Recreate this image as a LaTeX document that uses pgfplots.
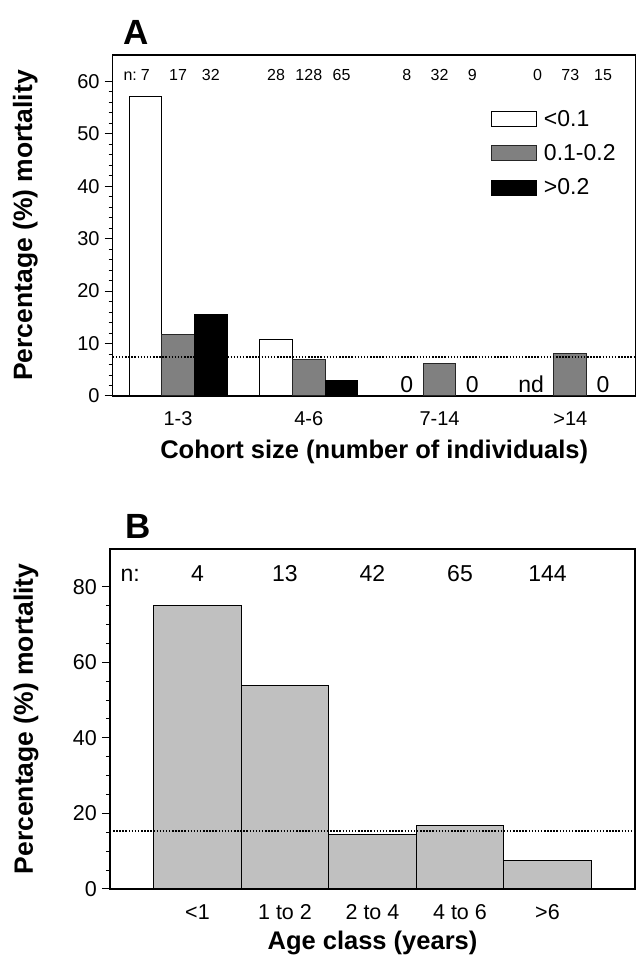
\documentclass[border=0pt]{standalone}
\usepackage{fontspec}
\setmainfont{Liberation Sans}
\usepackage{pgfplots}
\pgfplotsset{compat=1.18}
\definecolor{midgrey}{RGB}{128,128,128}
\definecolor{lightgrey}{RGB}{192,192,192}
\newcommand{\fs}[1]{\fontsize{#1}{#1}\selectfont}
\pgfplotsset{
  panel/.style={
    scale only axis, anchor=south west,
    ybar, bar shift=0,
    ytick pos=left, tick align=outside,
    major tick length=8pt, minor tick length=4pt,
    axis line style={line width=1.1pt},
    every tick/.style={line width=1pt, black},
    xtick style={draw=none},
    /pgf/number format/assume math mode=true,
    yticklabel style={anchor=east, inner sep=0pt, xshift=-5pt},
    xticklabel style={anchor=base, inner sep=0pt, yshift=-22pt},
    every axis y label/.style={rotate=90, anchor=base, font=\fs{26.5}\bfseries},
    every axis x label/.style={anchor=base, font=\fs{25.5}\bfseries},
    every axis title/.style={anchor=base west, font=\fs{35}\bfseries},
    clip=false,
  }
}
\newcommand{\nA}[2]{\node[font=\fs{16}, anchor=base] at (axis cs:#1,60.2) {#2};}
\newcommand{\nB}[2]{\node[font=\fs{23}, anchor=base] at (axis cs:#1,81.5) {#2};}
\begin{document}
\begin{tikzpicture}
\useasboundingbox (0,0) rectangle (637pt,956pt);
% ---------------- Panel A ----------------
\begin{axis}[panel,
  at={(112.7pt,560pt)}, width=523pt, height=341pt,
  xmin=-0.5, xmax=3.5, ymin=0, ymax=65,
  bar width=0.25,
  xtick={0,1,2,3}, xticklabels={1-3,4-6,7-14,>14},
  ytick={0,10,20,30,40,50,60}, minor y tick num=4,
  ticklabel style={font=\fs{20}},
  xlabel={Cohort size (number of individuals)},
  ylabel={Percentage (\%) mortality},
  x label style={at={(axis description cs:0.5,-0.182)}},
  y label style={at={(axis description cs:-0.154,0.5)}},
  title={A}, title style={at={(axis description cs:0.014,1.032)}},
  legend image code/.code={\draw[#1] (0pt,-8.5pt) rectangle (45pt,6.5pt);},
  legend style={at={(axis description cs:0.7233,0.8394)}, anchor=north west,
    draw=none, fill=none, inner sep=0pt, outer sep=0pt,
    row sep=17pt, column sep=7pt,
    font=\fs{23},
    nodes={inner sep=0pt, text height=16.5pt, text depth=0pt}},
  legend cell align=left,
]
\addplot[fill=white, draw=black, line width=1pt, bar shift=-0.25]
  coordinates {(0,57.1) (1,10.7)};
\addlegendentry{<0.1}
\addplot[fill=midgrey, draw=black!85, line width=1pt, bar shift=0]
  coordinates {(0,11.8) (1,7.0) (2,6.2) (3,8.1)};
\addlegendentry{0.1-0.2}
\addplot[fill=black, draw=black, line width=1pt, bar shift=0.25]
  coordinates {(0,15.6) (1,3.0)};
\addlegendentry{>0.2}
\addplot[sharp plot, forget plot, black, line width=1.4pt, dash pattern=on 1.5pt off 1.6pt]
  coordinates {(-0.5,7.4) (3.5,7.4)};
% n labels
\node[font=\fs{16}, anchor=base west] at (axis cs:-0.444,60.2) {n:};
\nA{-0.25}{7}\nA{0}{17}\nA{0.25}{32}
\nA{0.75}{28}\nA{1}{128}\nA{1.25}{65}
\nA{1.75}{8}\nA{2}{32}\nA{2.25}{9}
\nA{2.75}{0}\nA{3}{73}\nA{3.25}{15}
% zero / nd labels
\node[font=\fs{23}, anchor=base] at (axis cs:1.75,0.6) {0};
\node[font=\fs{23}, anchor=base] at (axis cs:2.25,0.6) {0};
\node[font=\fs{23}, anchor=base] at (axis cs:2.7,0.6) {nd};
\node[font=\fs{23}, anchor=base] at (axis cs:3.25,0.6) {0};
\end{axis}
% ---------------- Panel B ----------------
\begin{axis}[panel,
  at={(110pt,67pt)}, width=525pt, height=340pt,
  xmin=-1, xmax=5, ymin=0, ymax=90,
  bar width=1,
  xtick={0,1,2,3,4}, xticklabels={<1,1 to 2,2 to 4,4 to 6,>6},
  ytick={0,20,40,60,80}, minor y tick num=3,
  ticklabel style={font=\fs{21.5}},
  xlabel={Age class (years)},
  ylabel={Percentage (\%) mortality},
  x label style={at={(axis description cs:0.5,-0.179)}},
  y label style={at={(axis description cs:-0.147,0.5)}},
  title={B}, title style={at={(axis description cs:0.023,1.032)}},
]
\addplot[fill=lightgrey, draw=black, line width=1pt]
  coordinates {(0,75.0) (1,53.8) (2,14.3) (3,16.9) (4,7.6)};
\addplot[sharp plot, black, line width=1.4pt, dash pattern=on 1.5pt off 1.6pt]
  coordinates {(-1,15.4) (5,15.4)};
\node[font=\fs{23}, anchor=base west] at (axis cs:-0.92,81.5) {n:};
\nB{0}{4}\nB{1}{13}\nB{2}{42}\nB{3}{65}\nB{4}{144}
\end{axis}
\end{tikzpicture}
\end{document}
